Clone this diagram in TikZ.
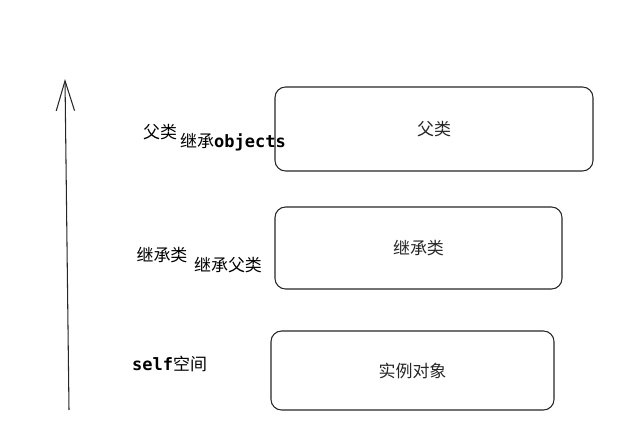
\documentclass[tikz,border=0pt]{standalone}
\usepackage{fontspec}
\setmainfont{Noto Sans CJK SC}
\newfontfamily\codefont{DejaVu Sans Mono}
\usetikzlibrary{arrows.meta}
\tikzset{layer/.style={draw, thick, rounded corners=12pt, inner sep=0pt}}

\begin{document}
\begin{tikzpicture}[x=0.03cm, y=-0.03cm, font=\fontsize{14.5}{17}\selectfont, layer/.style={draw, line width=0.9pt, rounded corners=9pt, inner sep=0pt, color=black!85}]
    \useasboundingbox (0, 0) rectangle (632, 448);
    \node[layer, minimum width=318*0.03cm, minimum height=84*0.03cm] (parent) at (434, 129) {父类};
    \node[layer, minimum width=287*0.03cm, minimum height=82*0.03cm] (child) at (418.5, 248) {继承类};
    \node[layer, minimum width=283*0.03cm, minimum height=79*0.03cm] (instance) at (412.5, 370.5) {实例对象};
    \node (parentlabel) at (160, 132) {父类};
    \node[anchor=west, inner sep=0pt] (objlabel) at (180, 142) {继承{\codefont\bfseries objects}};
    \node (childlabel) at (162, 255) {继承类};
    \node (inheritlabel) at (228, 265) {继承父类};
    \node[anchor=west, inner sep=0pt] (selflabel) at (132, 364) {{\codefont\bfseries self}空间};
    \coordinate (bottom) at (69, 410);
    \coordinate (top) at (65, 79);
    \draw[line width=0.9pt, color=black!85, -{Straight Barb[length=0.9cm, width=0.55cm]}] (bottom) -- (top);
\end{tikzpicture}
\end{document}
